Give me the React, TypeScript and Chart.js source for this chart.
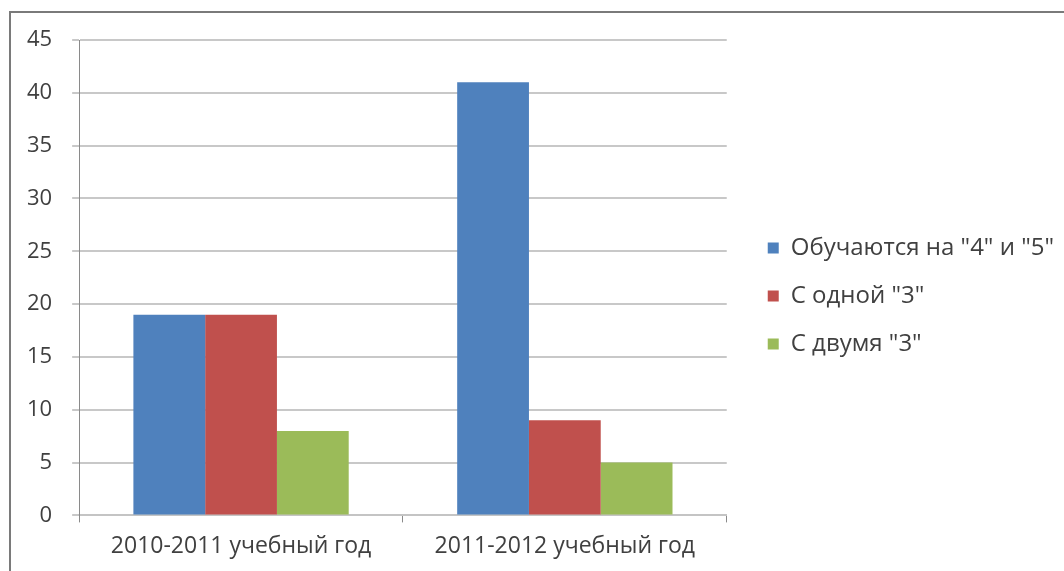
import React, { useEffect, useRef } from "react";
import { Chart, registerables } from "chart.js";

Chart.register(...registerables);

const categories = ["2010-2011 учебный год", "2011-2012 учебный год"];
const seriesNames = ['Обучаются на "4" и "5"', 'С одной "3"', 'С двумя "3"'];
const excellent = [19, 41];
const oneThree = [19, 9];
const twoThrees = [8, 5];
const seriesColors = ["#4F81BD", "#C0504D", "#9BBB59"];

const FONT = "'Open Sans', 'Noto Sans', sans-serif";
const TEXT = "#404040";

export default function App() {
  const ref = useRef<HTMLCanvasElement | null>(null);

  useEffect(() => {
    document.body.style.margin = "0";
    const canvas = ref.current;
    if (!canvas) return;
    const chart = new Chart(canvas, {
      type: "bar",
      data: {
        labels: categories,
        datasets: [excellent, oneThree, twoThrees].map((d, i) => ({
          label: seriesNames[i],
          data: d,
          backgroundColor: seriesColors[i],
          borderWidth: 0,
          barPercentage: 1,
          categoryPercentage: 0.665,
          yAxisID: "y",
        })),
      },
      options: {
        animation: false,
        responsive: false,
        maintainAspectRatio: false,
        layout: { padding: { left: 7, top: 40, right: 0, bottom: 1 } },
        plugins: {
          tooltip: { enabled: false },
          legend: {
            position: "right",
            align: "start",
            maxWidth: 330,
            title: {
              display: true,
              text: " ",
              font: { family: FONT, size: 10 },
              padding: { top: 160, bottom: 0 },
            },
            labels: {
              font: { family: FONT, size: 24 },
              color: TEXT,
              boxWidth: 11,
              boxHeight: 11,
              padding: 24,
            },
          },
        },
        scales: {
          x: {
            grid: {
              offset: true,
              drawOnChartArea: false,
              drawTicks: true,
              tickLength: 7,
              color: "#8a8a8a",
            },
            border: { display: true, color: "#c4c4c4", width: 2 },
            ticks: {
              font: { family: FONT, size: 23 },
              color: TEXT,
              padding: 10,
            },
          },
          y: {
            min: 0,
            max: 45,
            ticks: {
              stepSize: 5,
              font: { family: FONT, size: 22 },
              color: TEXT,
              padding: 20,
            },
            grid: {
              color: "#c8c8c8",
              lineWidth: 2,
              tickLength: 7,
            },
            border: { display: true, color: "#8a8a8a", width: 1 },
          },
          gap: {
            type: "linear",
            position: "right",
            display: true,
            ticks: { display: false },
            grid: { display: false, drawTicks: false },
            border: { display: false },
            afterFit: (scale: any) => {
              scale.width = 17;
            },
          },
        },
      },
    });
    return () => chart.destroy();
  }, []);

  return (
    <div style={{ position: "relative", width: 1064, height: 571, background: "#fff", overflow: "hidden" }}>
      <canvas ref={ref} width={1064} height={571} style={{ position: "absolute", left: 0, top: 0 }} />
      <div
        style={{
          position: "absolute",
          left: 9,
          top: 11,
          width: 1100,
          height: 600,
          borderLeft: "2px solid #7a7a7a",
          borderTop: "2px solid #7a7a7a",
          pointerEvents: "none",
        }}
      />
    </div>
  );
}
